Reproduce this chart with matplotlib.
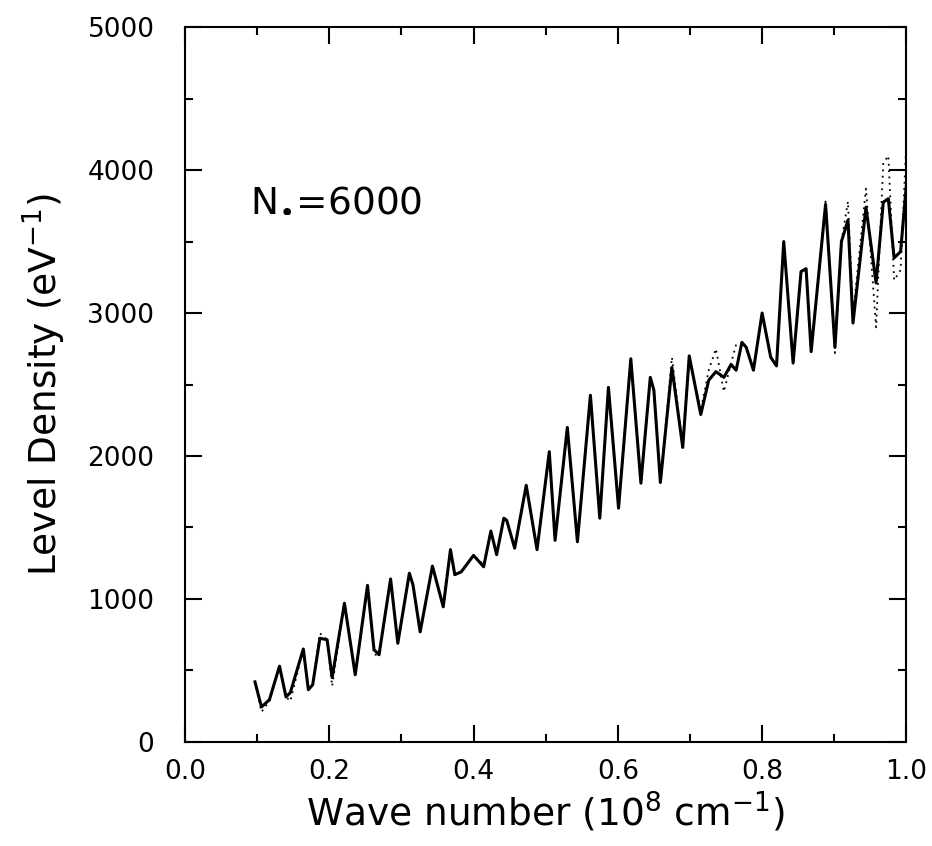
import matplotlib
matplotlib.use("Agg")
import matplotlib.pyplot as plt
from matplotlib.ticker import MultipleLocator

# wave number (10^8 cm^-1)
wave = [0.097, 0.106, 0.117, 0.131, 0.140, 0.146, 0.164, 0.171, 0.177, 0.187,
        0.197, 0.204, 0.221, 0.236, 0.253, 0.262, 0.269, 0.285, 0.295, 0.311,
        0.316, 0.326, 0.343, 0.358, 0.368, 0.374, 0.383, 0.400, 0.414, 0.424,
        0.432, 0.442, 0.446, 0.457, 0.473, 0.488, 0.505, 0.513, 0.530, 0.544,
        0.562, 0.575, 0.587, 0.601, 0.618, 0.632, 0.645, 0.650, 0.659, 0.675,
        0.690, 0.699, 0.715, 0.726, 0.736, 0.747, 0.757, 0.764, 0.772, 0.778,
        0.788, 0.800, 0.812, 0.820, 0.830, 0.843, 0.854, 0.861, 0.868, 0.888,
        0.901, 0.910, 0.919, 0.926, 0.944, 0.958, 0.968, 0.975, 0.983, 0.992,
        1.000]

# solid curve
dens_solid = [420, 245, 295, 530, 315, 345, 650, 365, 400, 725,
              715, 450, 970, 470, 1095, 645, 610, 1140, 690, 1180,
              1100, 770, 1230, 945, 1345, 1170, 1190, 1305, 1225, 1475,
              1310, 1565, 1550, 1355, 1795, 1345, 2030, 1410, 2200, 1400,
              2425, 1565, 2480, 1635, 2680, 1810, 2550, 2460, 1815, 2620,
              2060, 2700, 2290, 2530, 2590, 2550, 2640, 2600, 2795, 2760,
              2600, 3000, 2690, 2630, 3500, 2650, 3290, 3310, 2730, 3760,
              2760, 3500, 3650, 2930, 3740, 3210, 3775, 3800, 3385, 3430,
              3895]

# dotted curve
dens_dot = [420, 210, 285, 530, 315, 285, 650, 365, 400, 760,
            715, 390, 970, 470, 1095, 610, 610, 1140, 690, 1180,
            1100, 770, 1230, 945, 1345, 1170, 1190, 1305, 1240, 1475,
            1310, 1565, 1550, 1355, 1795, 1345, 2030, 1410, 2200, 1400,
            2425, 1565, 2480, 1635, 2680, 1810, 2550, 2460, 1815, 2690,
            2060, 2680, 2320, 2600, 2750, 2450, 2650, 2780, 2780, 2760,
            2600, 3000, 2690, 2630, 3500, 2650, 3290, 3310, 2730, 3780,
            2720, 3500, 3780, 2990, 3870, 2900, 4050, 4100, 3230, 3300,
            4200]

plt.rcParams['font.family'] = ['DejaVu Sans']

fig = plt.figure(figsize=(9.32, 8.46), dpi=100)
ax = fig.add_axes([0.1985, 0.123, 0.774, 0.845])

ax.plot(wave, dens_dot, color='black', lw=1.3, ls=(0, (1, 2.5)))
ax.plot(wave, dens_solid, color='black', lw=2.2)

ax.set_xlim(0, 1.0)
ax.set_ylim(0, 5000)
ax.xaxis.set_major_locator(MultipleLocator(0.2))
ax.xaxis.set_minor_locator(MultipleLocator(0.1))
ax.yaxis.set_major_locator(MultipleLocator(1000))
ax.yaxis.set_minor_locator(MultipleLocator(500))
ax.xaxis.set_major_formatter(lambda v, p: f"{v:.1f}")
ax.tick_params(which='both', direction='in', top=True, right=True, width=1.5,
               labelsize=19)
ax.tick_params(which='major', length=12)
ax.tick_params(axis='x', which='major', pad=12)
ax.tick_params(axis='y', which='major', pad=22)
ax.tick_params(which='minor', length=6)
for s in ax.spines.values():
    s.set_linewidth(1.5)

ax.set_xlabel('Wave number (10$^{8}$ cm$^{-1}$)', fontsize=27, labelpad=4)
ax.set_ylabel('Level Density (eV$^{-1}$)', fontsize=27, labelpad=14)

ax.text(0.09, 3790, 'N$_{\\bullet}$=6000', fontsize=27, va='center', ha='left')

fig.savefig('out.png', dpi=100)
